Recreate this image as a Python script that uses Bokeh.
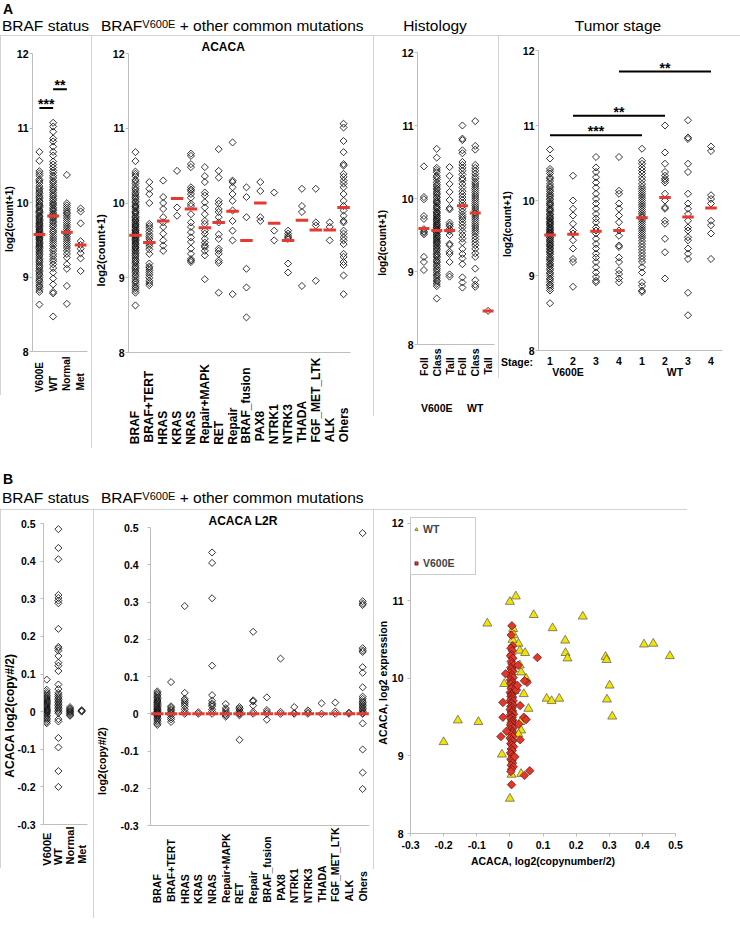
import math
from bokeh.plotting import figure
from bokeh.layouts import row, column
from bokeh.models import (Range1d, FixedTicker, Legend, LegendItem, CustomJSTickFormatter,
                          LinearAxis, Div)
from bokeh.core.properties import value
from bokeh.embed import file_html
from bokeh.resources import INLINE

# ---------------- data ----------------
# Panel A1: BRAF status, log2(count+1)
status_cats = ["V600E", "WT", "Normal", "Met"]
dense_v600e = [10.68, 10.56, 10.42, 10.39, 10.36, 10.31, 10.29, 10.26, 10.22, 10.19,
               10.17, 10.14, 10.12, 10.09, 10.07, 10.05, 10.02, 10.01, 9.98, 9.96,
               9.95, 9.93, 9.90, 9.88, 9.87, 9.85, 9.82, 9.81, 9.79, 9.77,
               9.76, 9.74, 9.72, 9.71, 9.69, 9.68, 9.66, 9.64, 9.63, 9.61,
               9.60, 9.58, 9.57, 9.56, 9.54, 9.53, 9.51, 9.50, 9.48, 9.46,
               9.45, 9.43, 9.41, 9.40, 9.38, 9.36, 9.34, 9.32, 9.30, 9.28,
               9.25, 9.23, 9.21, 9.19, 9.16, 9.14, 9.12, 9.09, 9.07, 9.04,
               9.02, 8.99, 8.96, 8.94, 8.91, 8.88, 8.86, 8.83, 8.80, 8.63]
status_wt = [11.07, 11.02, 10.95, 10.86, 10.82, 10.75, 10.68, 10.63, 10.55, 10.51,
             10.47, 10.43, 10.40, 10.36, 10.33, 10.29, 10.27, 10.24, 10.21, 10.18,
             10.16, 10.13, 10.10, 10.08, 10.05, 10.03, 10.00, 9.98, 9.96, 9.93,
             9.91, 9.89, 9.86, 9.84, 9.82, 9.80, 9.78, 9.75, 9.73, 9.70,
             9.68, 9.65, 9.62, 9.60, 9.57, 9.54, 9.51, 9.48, 9.45, 9.42,
             9.38, 9.35, 9.31, 9.28, 9.24, 9.21, 9.17, 9.12, 9.06, 8.98,
             8.90, 8.80, 8.78, 8.47]
status_normal = [10.37, 9.99, 9.96, 9.93, 9.90, 9.87, 9.85, 9.82, 9.79, 9.76,
                 9.73, 9.70, 9.67, 9.64, 9.61, 9.59, 9.57, 9.54, 9.51, 9.48,
                 9.45, 9.42, 9.39, 9.35, 9.31, 9.26, 9.17, 9.11, 8.88, 8.64]
status_met = [9.92, 9.88, 9.72, 9.48, 9.43, 9.38, 9.32, 9.25, 9.08]
status_medians = [9.57, 9.82, 9.60, 9.43]
status_sig_pairs = [(0, 1), (1, 2)]
status_sig_heights = [11.27, 11.52]
status_sig_labels = ["***", "**"]

# Panel A2: BRAF V600E + other common mutations
mut_cats = ["BRAF", "BRAF+TERT", "HRAS", "KRAS", "NRAS", "Repair+MAPK", "RET", "Repair",
            "BRAF_fusion", "PAX8", "NTRK1", "NTRK3", "THADA", "FGF_MET_LTK", "ALK", "Ohers"]
mut_braf_tert = [10.28, 10.19, 10.12, 10.0, 9.72, 9.69, 9.66, 9.62, 9.58, 9.55, 9.52, 9.48, 9.45,
                 9.42, 9.38, 9.32, 9.19, 9.15, 9.13, 9.10, 9.07, 9.04, 9.0, 8.96, 8.93, 8.90]
mut_hras = [10.30, 10.08, 10.0, 9.92, 9.81, 9.74, 9.68, 9.59, 9.50, 9.43, 9.36]
mut_kras = [10.43, 9.94, 9.83]
mut_nras = [10.66, 10.63, 10.52, 10.48, 10.21, 10.18, 10.16, 10.12, 10.07, 9.99, 9.96,
            9.85, 9.74, 9.68, 9.61, 9.54, 9.48, 9.39, 9.32, 9.25, 9.23, 9.21]
mut_repair_mapk = [10.48, 10.36, 10.28, 10.14, 10.10, 10.01, 9.94, 9.85, 9.76, 9.72,
                   9.63, 9.59, 9.52, 9.47, 9.43, 9.41, 9.36, 9.30, 8.98]
mut_ret = [10.72, 10.43, 10.34, 10.03, 9.99, 9.92, 9.88, 9.81, 9.74, 9.58, 9.52,
           9.39, 9.36, 9.32, 9.23, 9.20, 8.80]
mut_repair = [10.81, 10.30, 10.28, 10.21, 10.12, 10.03, 9.90, 9.76, 9.63, 9.50, 8.78]
mut_braf_fusion = [10.21, 10.08, 9.81, 9.12, 8.87, 8.47]
mut_pax8 = [10.28, 10.16, 9.81, 9.76]
mut_ntrk1 = [10.14, 9.63, 9.50]
mut_ntrk3 = [9.63, 9.59, 9.56, 9.54, 9.52, 9.19, 9.07]
mut_thada = [10.19, 9.96, 9.88, 8.89]
mut_fgf = [10.19, 9.74, 9.70, 8.96]
mut_alk = [9.74, 9.68, 9.50]
mut_others = [11.06, 11.01, 10.83, 10.68, 10.52, 10.50, 10.39, 10.35, 10.30, 10.26,
              10.21, 10.12, 10.03, 9.96, 9.90, 9.83, 9.76, 9.74, 9.63, 9.59,
              9.54, 9.50, 9.45, 9.32, 9.28, 9.21, 9.17, 9.03, 8.78]
mut_medians = [9.57, 9.47, 9.76, 10.06, 9.92, 9.67, 9.74, 9.89,
               9.50, 10.0, 9.73, 9.50, 9.77, 9.64, 9.64, 9.94]

# Panel A3: Histology
hist_cats = ["Foll", "Class", "Tall", "Foll", "Class", "Tall"]
hist_groups = ["V600E", "WT"]
hist_v_foll = [10.44, 10.02, 9.99, 9.76, 9.72, 9.58, 9.55, 9.53, 9.51, 9.20, 9.13, 9.02]
hist_v_tall = [10.43, 10.31, 10.20, 10.09, 9.98, 9.87, 9.85, 9.67, 9.64, 9.62,
               9.58, 9.55, 9.50, 9.38, 9.36, 9.27, 9.24, 9.13, 8.96, 8.93]
hist_w_foll = [11.0, 10.82, 10.80, 10.66, 10.62, 10.50, 10.46, 10.42, 10.38, 10.33,
               10.28, 10.25, 10.20, 10.15, 10.10, 10.06, 10.02, 9.98, 9.94, 9.90,
               9.86, 9.82, 9.78, 9.75, 9.72, 9.68, 9.64, 9.60, 9.55, 9.50,
               9.45, 9.40, 9.31, 9.24, 9.18, 9.10, 8.92, 8.85, 8.78]
hist_w_class = [11.06, 10.72, 10.67, 10.46, 10.42, 10.38, 10.34, 10.30, 10.27, 10.23,
                10.20, 10.17, 10.14, 10.11, 10.08, 10.05, 10.02, 9.99, 9.96, 9.93,
                9.90, 9.87, 9.84, 9.81, 9.79, 9.76, 9.73, 9.70, 9.67, 9.64,
                9.61, 9.58, 9.55, 9.52, 9.48, 9.44, 9.40, 9.36, 9.31, 9.25,
                9.20, 9.04, 8.88, 8.82, 8.79]
hist_w_tall = [8.46]
hist_medians = [9.59, 9.56, 9.56, 9.90, 9.80, 8.46]

# Panel A4: Tumor stage
stage_cats = ["1", "2", "3", "4", "1", "2", "3", "4"]
stage_groups = ["V600E", "WT"]
stage_v2 = [10.33, 10.0, 9.89, 9.80, 9.69, 9.60, 9.56, 9.47, 9.36, 9.22, 9.18, 8.85]
stage_v3 = [10.58, 10.44, 10.38, 10.31, 10.24, 10.17, 10.09, 10.02, 9.96, 9.89,
            9.82, 9.76, 9.71, 9.64, 9.60, 9.56, 9.49, 9.42, 9.36, 9.29,
            9.24, 9.18, 9.11, 9.04, 8.98, 8.93, 8.91]
stage_v4 = [10.58, 10.13, 10.09, 9.96, 9.89, 9.80, 9.71, 9.60, 9.53, 9.40,
            9.38, 9.24, 9.18, 9.07, 9.02, 8.96, 8.91]
stage_w1 = [10.69, 10.53, 10.49, 10.44, 10.40, 10.36, 10.31, 10.27, 10.22, 10.18,
            10.15, 10.12, 10.09, 10.06, 10.03, 10.00, 9.97, 9.94, 9.91, 9.88,
            9.85, 9.82, 9.79, 9.77, 9.74, 9.71, 9.68, 9.65, 9.62, 9.59,
            9.56, 9.53, 9.50, 9.46, 9.42, 9.38, 9.34, 9.30, 9.26, 9.22,
            9.18, 9.11, 9.04, 8.91, 8.86, 8.80, 8.78]
stage_w2 = [11.0, 10.64, 10.49, 10.38, 10.33, 10.29, 10.27, 10.24, 10.09, 10.0,
            9.91, 9.89, 9.73, 9.69, 9.49, 9.31, 8.96]
stage_w3 = [11.07, 10.84, 10.82, 10.49, 10.38, 10.09, 9.96, 9.89, 9.82, 9.73,
            9.64, 9.60, 9.51, 9.47, 9.36, 9.29, 9.22, 8.77, 8.47]
stage_w4 = [10.72, 10.66, 10.07, 10.02, 9.96, 9.73, 9.67, 9.56, 9.22]
stage_medians = [9.54, 9.55, 9.59, 9.60, 9.77, 10.04, 9.78, 9.90]
stage_sig_pairs = [(0, 4), (1, 5), (3, 7)]
stage_sig_heights = [10.87, 11.13, 11.72]
stage_sig_labels = ["***", "**", "**"]

# Panel B1: BRAF status, ACACA log2(copy#/2)
cn_v600e = [0.085, 0.058, 0.052, 0.047, 0.043, 0.039, 0.036, 0.033, 0.030, 0.027,
            0.024, 0.021, 0.018, 0.015, 0.012, 0.009, 0.006, 0.004, 0.002, 0.0,
            -0.003, -0.006, -0.01, -0.014, -0.018, -0.022, -0.027, -0.031]
cn_wt = [0.485, 0.435, 0.405, 0.31, 0.302, 0.295, 0.288, 0.22, 0.172, 0.168,
         0.162, 0.148, 0.13, 0.122, 0.108, 0.072, 0.06, 0.05, 0.045, 0.04,
         0.036, 0.032, 0.028, 0.024, 0.02, 0.016, 0.012, 0.008, 0.004, 0.0,
         -0.004, -0.02, -0.026, -0.07, -0.095, -0.158, -0.2]
cn_normal = [0.012, 0.008, 0.005, 0.002, 0.0, -0.003, -0.006, -0.009, -0.011]
cn_met = [0.004, 0.002, 0.0]

# Panel B2: ACACA L2R by mutation
cn_braf = [0.06, 0.056, 0.052, 0.048, 0.044, 0.041, 0.037, 0.034, 0.031, 0.028,
           0.025, 0.022, 0.019, 0.016, 0.013, 0.011, 0.008, 0.006, 0.004, 0.002,
           0.0, -0.003, -0.006, -0.009, -0.013, -0.017, -0.021, -0.026, -0.03]
cn_braf_tert = [0.085, 0.02, 0.016, 0.012, 0.008, 0.004, 0.0, -0.004, -0.01, -0.015, -0.022]
cn_hras = [0.289, 0.056, 0.04, 0.036, 0.031, 0.026, 0.02, 0.012, 0.005, 0.0]
cn_kras = [0.004, 0.0]
cn_nras = [0.433, 0.405, 0.31, 0.129, 0.05, 0.035, 0.028, 0.024, 0.02, 0.012, 0.006, 0.0]
cn_repair_mapk = [0.026, 0.015, 0.01, 0.005, 0.0, -0.004, -0.008]
cn_ret = [0.018, 0.014, 0.01, 0.006, 0.002, 0.0, -0.004, -0.07]
cn_repair = [0.22, 0.036, 0.033, 0.022, 0.005, 0.0]
cn_braf_fusion = [0.044, 0.01, 0.005, 0.0, -0.016]
cn_pax8 = [0.148, 0.005, 0.0]
cn_ntrk1 = [0.018, 0.002, 0.0]
cn_ntrk3 = [0.009, 0.004, 0.0]
cn_thada = [0.028, 0.0]
cn_fgf = [0.03, 0.006, 0.0]
cn_alk = [0.003, 0.0]
cn_others = [0.485, 0.302, 0.296, 0.292, 0.176, 0.17, 0.166, 0.125, 0.11, 0.071,
             0.046, 0.04, 0.034, 0.03, 0.026, 0.022, 0.018, 0.014, 0.01, 0.006,
             0.002, 0.0, -0.026, -0.096, -0.158, -0.202]
cn_mut_medians = [0, 0, 0, 0, 0, 0, 0, 0, 0, 0, 0, 0, 0, 0, 0, 0]
cn_ticks = [-0.3, -0.2, -0.1, 0, 0.1, 0.2, 0.3, 0.4, 0.5]

# Panel B3: scatter copy number vs expression
sc_wt_x = [-0.20, -0.157, -0.095, -0.068, -0.024, -0.017, 0.0, 0.018, 0.0, 0.005,
           0.034, 0.026, 0.03, 0.046, 0.072, 0.129, 0.167, 0.168, 0.174, 0.22,
           0.111, 0.126, 0.149, 0.289, 0.292, 0.301, 0.293, 0.309, 0.405, 0.433,
           0.483, 0.056, 0.042, 0.034, 0.032, 0.026, 0.049, 0.034, 0.03, 0.01,
           0.008, 0.012, 0.009, 0.014]
sc_wt_y = [9.18, 9.46, 9.44, 10.71, 9.02, 9.93, 10.99, 11.06, 8.45, 8.76,
           8.77, 10.45, 10.36, 10.33, 10.82, 10.65, 10.49, 10.33, 10.26, 10.80,
           9.74, 9.71, 9.74, 10.28, 10.24, 9.91, 9.73, 9.51, 10.44, 10.45,
           10.29, 9.61, 9.80, 9.33, 9.44, 9.28, 10.0, 10.08, 10.17, 10.64,
           10.50, 10.56, 10.12, 9.84]
sc_v_core_x = [0.006, 0.004, 0.008, 0.003, 0.007, 0.005, 0.002, 0.009, 0.004, 0.006,
               0.011, 0.003, 0.005, 0.008, 0.001, 0.006, 0.004, 0.010, 0.002, 0.007,
               0.005, 0.003, 0.009, 0.006, 0.004, 0.012, 0.001, 0.007, 0.005, 0.003,
               0.008, 0.006, 0.002, 0.010, 0.004, 0.006, 0.009, 0.003, 0.007, 0.005,
               0.001, 0.008, 0.004, 0.006, 0.011, 0.002, 0.005, 0.007, 0.003, 0.009,
               0.006, 0.004, 0.008, 0.002, 0.005, 0.010, 0.003, 0.007, 0.006, 0.004,
               0.009, 0.001, 0.005, 0.008, 0.003, 0.006, 0.011, 0.004, 0.007, 0.002,
               0.005, 0.009, 0.003, 0.006, 0.008, 0.004, 0.010, 0.005, 0.003, 0.005]
sc_v_out_x = [0.083, -0.027, -0.021, -0.021, -0.013, -0.01, 0.031, 0.025, 0.052, 0.044,
              0.042, 0.049, 0.031, 0.027, 0.06, 0.044, 0.02, 0.023, 0.015]
sc_v_out_y = [10.27, 9.25, 9.50, 9.69, 10.06, 9.32, 9.21, 10.17, 9.95, 9.97,
              9.50, 9.47, 9.65, 9.41, 8.81, 8.75, 9.85, 9.91, 8.99]

# ---------------- styling ----------------
FONT = "Liberation Sans"
RED = "#e63a30"
AXC = "#bdbdbd"
BOX_CSS = ":host { outline: 1px solid #c4c4c4; outline-offset: -1px; }"
DIAMOND = dict(marker="square", angle=math.pi / 4, size=5, fill_color=None,
               line_color="#111111", line_width=0.9, line_alpha=0.95)
NB = "\u00a0"
# Arial/Liberation Sans Bold advance widths (em), used to align rotated labels
BOLD_W = {'A': .722, 'B': .722, 'C': .722, 'D': .722, 'E': .667, 'F': .611, 'G': .778,
          'H': .722, 'K': .722, 'L': .611, 'M': .833, 'N': .722, 'O': .778, 'P': .667,
          'R': .722, 'S': .667, 'T': .611, 'V': .667, 'W': .944, 'X': .667, 'a': .556,
          'e': .556, 'f': .333, 'h': .611, 'i': .278, 'l': .278, 'm': .889, 'n': .611,
          'o': .611, 'p': .611, 'r': .389, 's': .556, 't': .333, 'u': .611, '+': .584,
          '_': .556}


def text_w(s):
    return sum(BOLD_W.get(ch, 0.556) for ch in s)


def bottom_aligned(labels):
    m = max(text_w(s) for s in labels)
    return [s + NB * int(round((m - text_w(s)) / 0.278)) for s in labels]


def shifted(text, shift_px, size):
    return text + NB * int(round(2 * shift_px / (0.278 * size)))


def zero_fmt():
    return CustomJSTickFormatter(code="return tick == 0 ? '0' : tick.toFixed(1);")


def style_axis(ax, size="10.5px", standoff=1):
    ax.axis_line_color = AXC
    ax.major_tick_line_color = AXC
    ax.minor_tick_line_color = None
    ax.major_tick_out = 3
    ax.major_tick_in = 0
    ax.major_label_standoff = standoff
    ax.major_label_text_font = FONT
    ax.major_label_text_font_style = "bold"
    ax.major_label_text_font_size = size
    ax.major_label_text_color = "black"
    ax.axis_label_text_color = "black"


def make_panel(w, h, borders, xr, yr, yticks, ystand, ylab, ylab_size, ylab_stand, title=None):
    left, right, top, bottom = borders
    p = figure(width=w, height=h, x_range=Range1d(*xr), y_range=Range1d(*yr),
               output_backend="svg", toolbar_location=None, title=title,
               min_border_left=left, min_border_right=right,
               min_border_top=top, min_border_bottom=bottom)
    p.frame_align = False
    p.outline_line_color = None
    p.grid.visible = False
    p.background_fill_color = "white"
    p.border_fill_color = "white"
    p.stylesheets = [BOX_CSS]
    ya = p.yaxis[0]
    style_axis(ya, standoff=ystand)
    ya.ticker = FixedTicker(ticks=yticks)
    ya.axis_label = ylab
    ya.axis_label_text_font = FONT
    ya.axis_label_text_font_style = "bold"
    ya.axis_label_text_font_size = ylab_size
    ya.axis_label_standoff = ylab_stand
    style_axis(p.xaxis[0])
    return p


def cat_axis(p, labels, size, standoff, vertical=True):
    xa = p.xaxis[0]
    xa.ticker = FixedTicker(ticks=list(range(len(labels))))
    xa.formatter = CustomJSTickFormatter(args=dict(labels=labels),
                                         code="return labels[Math.round(tick)];")
    xa.major_tick_line_color = None
    xa.major_tick_out = 0
    xa.major_label_standoff = standoff
    xa.major_label_text_font_size = size
    if vertical:
        xa.major_label_orientation = math.pi / 2


def set_title(p, size, offset):
    p.title.text_font = FONT
    p.title.text_font_size = size
    p.title.text_font_style = "bold"
    p.title.text_color = "black"
    p.title.align = "left"
    p.title.offset = offset
    p.title.standoff = 0


def draw_groups(p, groups):
    for i, vals in enumerate(groups):
        p.scatter(x=[i] * len(vals), y=vals, **DIAMOND)


def draw_medians(p, meds, width):
    p.rect(x=list(range(len(meds))), y=meds, width=width, height=3,
           height_units="screen", fill_color=RED, line_color=None)


def draw_sig(p, pairs, heights, labels):
    for (a, b), yv, s in zip(pairs, heights, labels):
        p.segment(x0=[a], y0=[yv], x1=[b], y1=[yv], line_color="black", line_width=2)
        p.text(x=[(a + b) / 2], y=[yv], text=[s], text_align="center",
               text_baseline="middle", y_offset=-4, text_font=value(FONT),
               text_font_size="14px", text_font_style="bold", text_color="black")


def span(text, left, top, size, bold=False, anchor=None):
    tr = ""
    if anchor == "center":
        tr = "transform:translateX(-50%);"
    elif anchor == "right":
        tr = "transform:translateX(-100%);"
    return ('<span style="position:absolute;left:%spx;top:%spx;font-family:\'Liberation Sans\';'
            'font-size:%spx;font-weight:%s;line-height:%spx;white-space:nowrap;color:#000;%s">%s</span>'
            % (left, top, size, "bold" if bold else "normal", size, tr, text))


def title_spans(letter, letter_top, title_top, with_others):
    sup = '<span style="font-size:11px;vertical-align:3.5px;line-height:0">V600E</span>'
    s = span(letter, 3, letter_top, 14, bold=True)
    s += span("BRAF status", 2, title_top, 15.5)
    s += span("BRAF" + sup + " + other common mutations", 101, title_top, 15.5)
    if with_others:
        s += span("Histology", 435, title_top, 15.5, anchor="center")
        s += span("Tumor stage", 618, title_top, 15.5, anchor="center")
    return s


def box(html, h):
    return '<div style="position:relative;width:740px;height:%spx;">%s</div>' % (h, html)


# ---------------- header A ----------------
head_a = Div(text=box(title_spans("A", 1.5, 17.9, True), 35), width=740, height=35,
             margin=(0, 0, 0, 0))

# ---------------- A1: BRAF status ----------------
a1 = make_panel(91, 360, (31, 4, 18, 42), (-0.5, 3.5), (8, 12), [8, 9, 10, 11, 12], 1,
                shifted("log2(count+1)", 17, 10), "10px", -1)
cat_axis(a1, bottom_aligned(status_cats), "10px", 5)
draw_groups(a1, [dense_v600e, status_wt, status_normal, status_met])
draw_medians(a1, status_medians, 0.85)
draw_sig(a1, status_sig_pairs, status_sig_heights, status_sig_labels)

# ---------------- A2: mutations ----------------
a2 = make_panel(282, 413, (34, 23, 18, 96), (-0.5, 15.5), (8, 12), [8, 9, 10, 11, 12], 1,
                shifted("log2(count+1)", 47, 11), "11px", 3, title="ACACA")
set_title(a2, "12px", 73)
cat_axis(a2, bottom_aligned(mut_cats), "12px", 5)
draw_groups(a2, [dense_v600e, mut_braf_tert, mut_hras, mut_kras, mut_nras, mut_repair_mapk,
                 mut_ret, mut_repair, mut_braf_fusion, mut_pax8, mut_ntrk1, mut_ntrk3,
                 mut_thada, mut_fgf, mut_alk, mut_others])
draw_medians(a2, mut_medians, 0.9)

# ---------------- A3: histology ----------------
a3 = make_panel(125, 381, (39, 4, 17, 65), (-0.5, 5.5), (8, 12), [8, 9, 10, 11, 12], 1,
                shifted("log2(count+1)", 45, 10), "10px", 11)
cat_axis(a3, bottom_aligned(hist_cats), "10.5px", 4)
group_size = len(hist_cats) // len(hist_groups)
group_pos = [g * group_size + (group_size - 1) / 2 for g in range(len(hist_groups))]
ga = LinearAxis(ticker=FixedTicker(ticks=group_pos),
                formatter=CustomJSTickFormatter(args=dict(labels=hist_groups, n=group_size),
                                                code="return labels[Math.round((tick - (n - 1) / 2) / n)];"))
style_axis(ga, standoff=19)
ga.axis_line_color = None
ga.major_tick_line_color = None
a3.add_layout(ga, "below")
draw_groups(a3, [hist_v_foll, dense_v600e, hist_v_tall, hist_w_foll, hist_w_class, hist_w_tall])
draw_medians(a3, hist_medians, 0.85)

# ---------------- A4: tumor stage ----------------
a4 = make_panel(242, 343, (34, 18, 15, 28), (-0.5, 7.5), (8, 12), [8, 9, 10, 11, 12], 1,
                shifted("log2(count+1)", 23, 10), "10px", 7)
cat_axis(a4, stage_cats, "10.5px", 6, vertical=False)
draw_groups(a4, [dense_v600e, stage_v2, stage_v3, stage_v4, stage_w1, stage_w2, stage_w3, stage_w4])
draw_medians(a4, stage_medians, 0.5)
draw_sig(a4, stage_sig_pairs, stage_sig_heights, stage_sig_labels)

# ---------------- header B (also carries the stage-row captions of panel A4) ----------------
hb = span("Stage:", 533, 8.9, 10.5, bold=True, anchor="right")
hb += span(stage_groups[0], 568, 18.9, 10.5, bold=True, anchor="center")
hb += span(stage_groups[1], 675, 18.9, 10.5, bold=True, anchor="center")
hb += title_spans("B", 123.6, 142.2, False)
head_b = Div(text=box(hb, 161), width=740, height=161, margin=(-100, 0, 0, 0),
             styles={"position": "relative", "z-index": "10"})

# ---------------- B1: BRAF status copy number ----------------
b1 = make_panel(93, 359, (40, 6, 14, 43), (-0.28, 3.5), (-0.3, 0.5), cn_ticks, 5,
                shifted("ACACA log2(copy#/2)", 42, 12), "12px", -3)
b1.yaxis[0].formatter = zero_fmt()
cat_axis(b1, bottom_aligned(status_cats), "11px", 2)
draw_groups(b1, [cn_v600e, cn_wt, cn_normal, cn_met])

# ---------------- B2: mutations copy number ----------------
b2 = make_panel(280, 409, (50, 4, 18, 93), (-0.5, 15.5), (-0.3, 0.5), cn_ticks, 9,
                shifted("log2(copy#/2)", 85, 10.5), "10.5px", 9, title="ACACA L2R")
set_title(b2, "12px", 58)
b2.yaxis[0].formatter = zero_fmt()
cat_axis(b2, bottom_aligned(mut_cats), "10.5px", 2)
draw_groups(b2, [cn_braf, cn_braf_tert, cn_hras, cn_kras, cn_nras, cn_repair_mapk, cn_ret,
                 cn_repair, cn_braf_fusion, cn_pax8, cn_ntrk1, cn_ntrk3, cn_thada, cn_fgf,
                 cn_alk, cn_others])
draw_medians(b2, cn_mut_medians, 0.9)

# ---------------- B3: scatter ----------------
b3 = make_panel(314, 360, (30, 12, 8, 34), (-0.3, 0.5), (8, 12.077), [8, 9, 10, 11, 12], 4,
                shifted("ACACA, log2 expression", 7, 10.5), "10.5px", 0)
b3.yaxis[0].bounds = (8, 12)
xa = b3.xaxis[0]
xa.ticker = FixedTicker(ticks=cn_ticks)
xa.formatter = zero_fmt()
xa.major_label_standoff = 4
xa.axis_label = "ACACA, log2(copynumber/2)"
xa.axis_label_text_font = FONT
xa.axis_label_text_font_style = "bold"
xa.axis_label_text_font_size = "10.5px"
xa.axis_label_standoff = 3
r_wt = b3.scatter(sc_wt_x, sc_wt_y, marker="triangle", size=9, fill_color="#f2e400",
                  line_color="#555555", line_width=0.7)
r_v = b3.scatter(sc_v_core_x + sc_v_out_x, dense_v600e + sc_v_out_y, marker="square",
                 angle=math.pi / 4, size=6, fill_color="#e2382b", line_color="#5a1510",
                 line_width=0.7)
legend = Legend(items=[LegendItem(label=value("WT"), renderers=[r_wt]),
                       LegendItem(label=value("V600E"), renderers=[r_v])],
                location="top_left", margin=0, padding=1, spacing=14,
                glyph_width=8, glyph_height=20, label_height=20, label_width=51,
                label_standoff=3, label_text_font=FONT, label_text_font_size="10.5px",
                label_text_font_style="bold", border_line_color="#9a9a9a",
                background_fill_color="white", background_fill_alpha=1.0)
b3.add_layout(legend)

layout = column(head_a, row(a1, a2, a3, a4), head_b, row(b1, b2, b3))

open("out.html", "w").write(file_html(layout, INLINE))
